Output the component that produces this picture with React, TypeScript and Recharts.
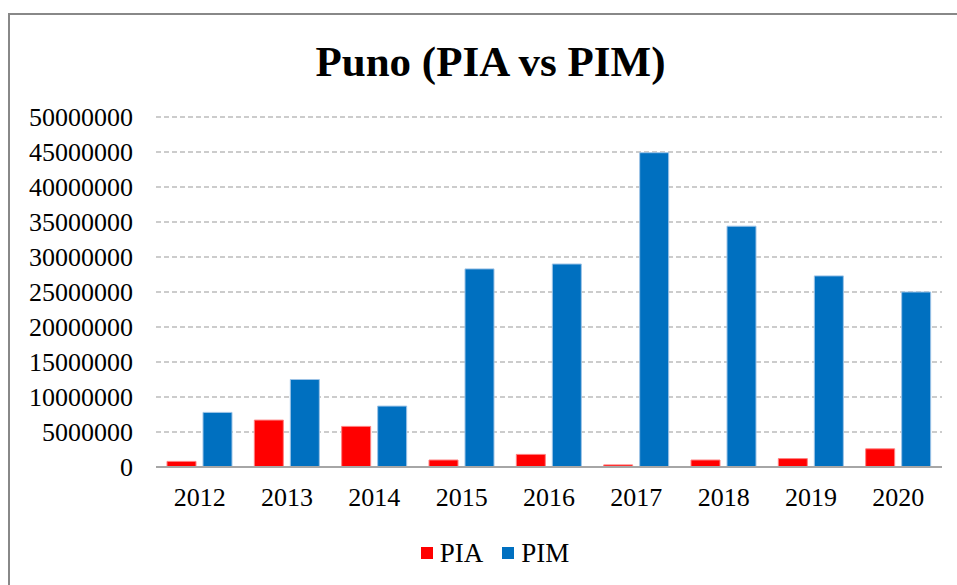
import React from 'react'
import { BarChart, Bar, XAxis, YAxis, CartesianGrid } from 'recharts'

const years = ['2012', '2013', '2014', '2015', '2016', '2017', '2018', '2019', '2020']
const piaValues = [800000, 6700000, 5800000, 1000000, 1800000, 300000, 1000000, 1200000, 2600000]
const pimValues = [7800000, 12500000, 8700000, 28300000, 29000000, 44900000, 34400000, 27300000, 25000000]
const yTicks = [0, 5000000, 10000000, 15000000, 20000000, 25000000, 30000000, 35000000, 40000000, 45000000, 50000000]

const series = [
  { key: 'PIA', color: '#FF0000', edge: '#FF8080' },
  { key: 'PIM', color: '#0070C0', edge: '#9DC3E6' },
]

const data = years.map((year, i) => ({ year, PIA: piaValues[i], PIM: pimValues[i] }))

const font = '"Liberation Serif", "Times New Roman", serif'

export default function App() {
  return (
    <div style={{ position: 'absolute', left: 0, top: 0, width: 957, height: 585, background: '#fff', overflow: 'hidden', fontFamily: font }}>
      <div
        style={{
          position: 'absolute',
          left: 8,
          top: 13,
          width: 960,
          height: 600,
          borderLeft: '2px solid #888',
          borderTop: '2px solid #888',
        }}
      />
      <div
        style={{
          position: 'absolute',
          left: 0,
          width: 981,
          top: 36,
          textAlign: 'center',
          fontSize: 43,
          fontWeight: 'bold',
          lineHeight: '52px',
          color: '#000',
        }}
      >
        Puno (PIA vs PIM)
      </div>
      <div style={{ position: 'absolute', left: 0, top: 0 }}>
        <BarChart
          width={957}
          height={585}
          data={data}
          margin={{ top: 117, right: 15, left: 0, bottom: 78 }}
          barSize={29}
          barGap={7}
        >
          <CartesianGrid vertical={false} stroke="#999" strokeDasharray="5 3" />
          <XAxis
            dataKey="year"
            height={40}
            tickLine={false}
            axisLine={{ stroke: '#a6a6a6', strokeWidth: 2 }}
            tickMargin={15}
            tick={{ fill: '#000', fontSize: 26, fontFamily: font }}
          />
          <YAxis
            width={156}
            domain={[0, 50000000]}
            ticks={yTicks}
            interval={0}
            tickLine={false}
            axisLine={false}
            tickMargin={17}
            tick={{ fill: '#000', fontSize: 26, fontFamily: font }}
          />
          {series.map(s => (
            <Bar
              key={s.key}
              dataKey={s.key}
              fill={s.color}
              stroke={s.edge}
              strokeWidth={1}
              isAnimationActive={false}
            />
          ))}
        </BarChart>
      </div>
      <div
        style={{
          position: 'absolute',
          left: 0,
          width: 990,
          top: 537,
          display: 'flex',
          justifyContent: 'center',
          alignItems: 'center',
          fontSize: 27,
          lineHeight: '32px',
          color: '#000',
        }}
      >
        {series.map((s, i) => (
          <div key={s.key} style={{ display: 'flex', alignItems: 'center', marginLeft: i > 0 ? 19 : 0 }}>
            <span style={{ display: 'inline-block', width: 12, height: 12, background: s.color, marginRight: 7 }} />
            <span>{s.key}</span>
          </div>
        ))}
      </div>
    </div>
  )
}
